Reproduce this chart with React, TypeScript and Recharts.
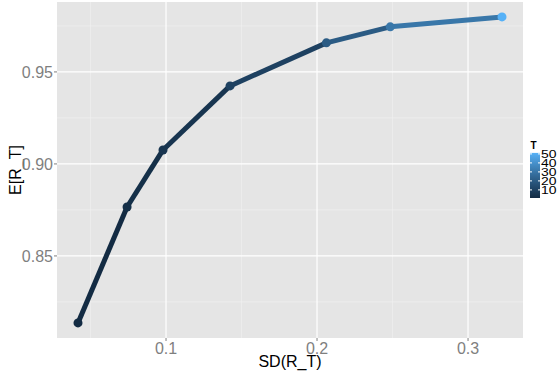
import React from "react";
import { ComposedChart, Line, Scatter, Cell, XAxis, YAxis, CartesianGrid } from "recharts";

// horizon T, risk (SD) and expected value of R_T
const horizons = [1, 3, 5, 10, 20, 30, 50];
const sdReturn = [0.0417, 0.0742, 0.098, 0.1424, 0.2062, 0.2485, 0.3225];
const meanReturn = [0.8136, 0.8766, 0.9076, 0.9424, 0.9658, 0.9745, 0.9799];

const xTicks = [0.1, 0.2, 0.3];
const xMinor = [0.05, 0.15, 0.25];
const yTicks = [0.85, 0.9, 0.95];
const yMinor = [0.825, 0.875, 0.925, 0.975];
const legendTicks = [10, 20, 30, 40, 50];

const LOW = "#132B43";
const HIGH = "#56B1F7";

// ggplot-style gradient: interpolate in CIELAB
const toLin = (c: number) => {
  c /= 255;
  return c <= 0.04045 ? c / 12.92 : Math.pow((c + 0.055) / 1.055, 2.4);
};
const fromLin = (c: number) => {
  const v = c <= 0.0031308 ? 12.92 * c : 1.055 * Math.pow(c, 1 / 2.4) - 0.055;
  return Math.round(Math.min(1, Math.max(0, v)) * 255);
};
const hexToLab = (hex: string) => {
  const r = toLin(parseInt(hex.slice(1, 3), 16));
  const g = toLin(parseInt(hex.slice(3, 5), 16));
  const b = toLin(parseInt(hex.slice(5, 7), 16));
  const X = (0.4124 * r + 0.3576 * g + 0.1805 * b) / 0.95047;
  const Y = 0.2126 * r + 0.7152 * g + 0.0722 * b;
  const Z = (0.0193 * r + 0.1192 * g + 0.9505 * b) / 1.08883;
  const f = (t: number) => (t > 216 / 24389 ? Math.cbrt(t) : (24389 / 27 * t + 16) / 116);
  const fx = f(X), fy = f(Y), fz = f(Z);
  return [116 * fy - 16, 500 * (fx - fy), 200 * (fy - fz)];
};
const labToHex = ([L, a, bb]: number[]) => {
  const fy = (L + 16) / 116;
  const fx = fy + a / 500;
  const fz = fy - bb / 200;
  const inv = (t: number) => (t ** 3 > 216 / 24389 ? t ** 3 : (116 * t - 16) / (24389 / 27));
  const X = inv(fx) * 0.95047, Y = inv(fy), Z = inv(fz) * 1.08883;
  const r = 3.2406 * X - 1.5372 * Y - 0.4986 * Z;
  const g = -0.9689 * X + 1.8758 * Y + 0.0415 * Z;
  const b = 0.0557 * X - 0.204 * Y + 1.057 * Z;
  return "#" + [r, g, b].map((v) => fromLin(v).toString(16).padStart(2, "0")).join("");
};
const labLow = hexToLab(LOW);
const labHigh = hexToLab(HIGH);
const tMin = Math.min(...horizons);
const tMax = Math.max(...horizons);
const colorOf = (t: number) => {
  const k = (t - tMin) / (tMax - tMin);
  return labToHex(labLow.map((v, i) => v + (labHigh[i] - v) * k));
};

const points = horizons.map((t, i) => ({ T: t, x: sdReturn[i], y: meanReturn[i] }));
// geom_path colours each segment by its starting point
const segments = points.slice(0, -1).map((p, i) => ({ color: colorOf(p.T), data: [p, points[i + 1]] }));

const FONT = '"Liberation Sans", Arial, Helvetica, sans-serif';
const GREY = "#7F7F7F";

// colourbar geometry
const barX = 530;
const barW = 10;
const barBottom = 198;
const pxPerUnit = 0.9;
const barY = (t: number) => barBottom - (t - tMin) * pxPerUnit;

const ColourBar = () => {
  const stops = Array.from({ length: 11 }, (_, i) => i / 10);
  return (
    <svg width={559} height={376} style={{ position: "absolute", left: 0, top: 0, pointerEvents: "none", fontFamily: FONT }}>
      <defs>
        <linearGradient id="tgrad" x1="0" y1="1" x2="0" y2="0">
          {stops.map((s) => (
            <stop key={s} offset={s} stopColor={colorOf(tMin + s * (tMax - tMin))} />
          ))}
        </linearGradient>
      </defs>
      <text x={530.5} y={149} fontSize={10} fontWeight="bold" fill="#000">T</text>
      <rect x={barX} y={barY(tMax) - 1} width={barW} height={barBottom - barY(tMax) + 1} fill="url(#tgrad)" />
      {legendTicks.map((t) => (
        <g key={t}>
          <line x1={barX} x2={barX + 2} y1={barY(t)} y2={barY(t)} stroke="#fff" strokeWidth={1} />
          <line x1={barX + barW - 2} x2={barX + barW} y1={barY(t)} y2={barY(t)} stroke="#fff" strokeWidth={1} />
          <text
            x={barX + barW + 1}
            y={barY(t) + 3.6}
            fontSize={10}
            textLength={15.5}
            lengthAdjust="spacingAndGlyphs"
            fill="#000"
          >
            {t}
          </text>
        </g>
      ))}
    </svg>
  );
};

export default function App() {
  return (
    <div style={{ position: "absolute", left: 0, top: 0, width: 559, height: 376, background: "#fff", fontFamily: FONT }}>
      <ComposedChart width={559} height={376} margin={{ top: 2, right: 36, bottom: 0, left: 0 }}>
        <CartesianGrid fill="#E5E5E5" stroke="#F2F2F2" strokeWidth={0.6} horizontalValues={yMinor} verticalValues={xMinor} />
        <CartesianGrid fill="none" stroke="#FFFFFF" strokeWidth={1.2} horizontalValues={yTicks} verticalValues={xTicks} />
        <XAxis
          type="number"
          dataKey="x"
          domain={[0.0278, 0.3364]}
          allowDataOverflow
          ticks={xTicks}
          tickFormatter={(v) => String(v)}
          height={38}
          axisLine={false}
          tickLine={{ stroke: GREY }}
          tickSize={3}
          tickMargin={2}
          tick={{ fill: GREY, fontSize: 16 }}
          label={{ value: "SD(R_T)", position: "insideBottom", offset: 9.5, fill: "#000", fontSize: 16 }}
        />
        <YAxis
          type="number"
          dataKey="y"
          domain={[0.8054, 0.988]}
          allowDataOverflow
          ticks={yTicks}
          tickFormatter={(v) => v.toFixed(2)}
          width={57}
          axisLine={false}
          tickLine={{ stroke: GREY }}
          tickSize={3}
          tickMargin={1}
          tick={{ fill: GREY, fontSize: 16 }}
          label={{
            content: ({ viewBox }: any) => {
              const cx = viewBox.x + 20.5;
              const cy = viewBox.y + viewBox.height / 2;
              return (
                <text x={cx} y={cy} transform={`rotate(-90 ${cx} ${cy})`} textAnchor="middle" fontSize={16} fill="#000">
                  E[R_T]
                </text>
              );
            },
          }}
        />
        {segments.map((s, i) => (
          <Line
            key={i}
            data={s.data}
            dataKey="y"
            type="linear"
            stroke={s.color}
            strokeWidth={5}
            dot={false}
            activeDot={false}
            isAnimationActive={false}
          />
        ))}
        <Scatter data={points} dataKey="y" isAnimationActive={false}>
          {points.map((p, i) => (
            <Cell key={i} fill={colorOf(p.T)} />
          ))}
        </Scatter>
      </ComposedChart>
      <ColourBar />
    </div>
  );
}
